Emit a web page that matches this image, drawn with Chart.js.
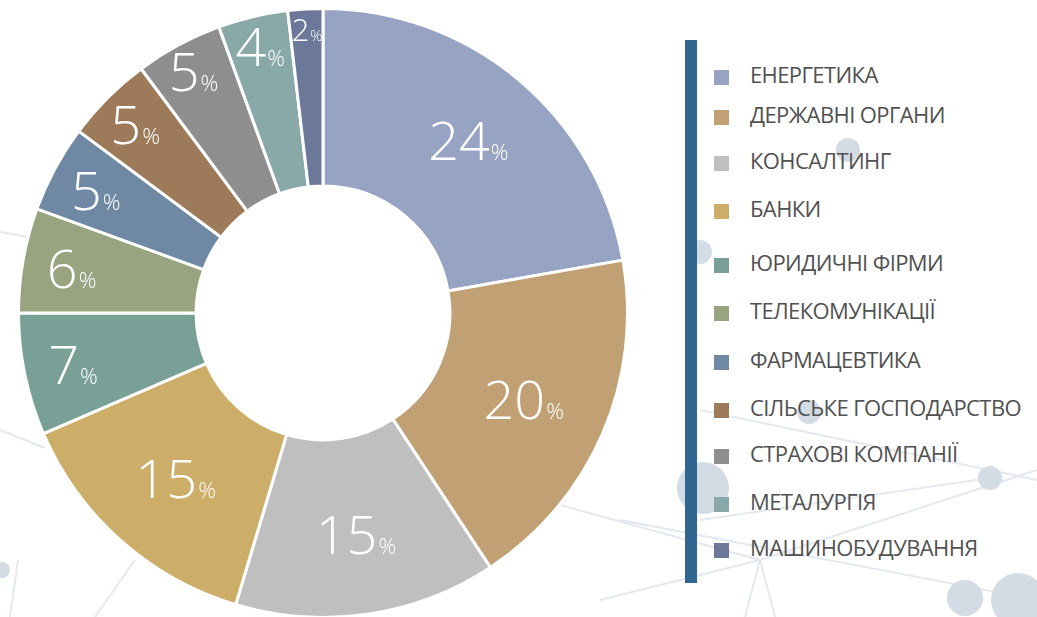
<!DOCTYPE html>
<html>
<head>
<meta charset="utf-8">
<script src="https://cdn.jsdelivr.net/npm/chart.js@4.4.1/dist/chart.umd.min.js"></script>
<style>
  html, body { margin: 0; padding: 0; background: #fff; }
  body { width: 1037px; height: 617px; overflow: hidden; position: relative; font-family: "Open Sans", "Noto Sans", sans-serif; }
  #bg { position: absolute; left: 0; top: 0; }
  #wrap { position: absolute; left: 17px; top: 7px; width: 612px; height: 612px; }
  #bar { position: absolute; left: 685px; top: 40px; width: 12px; height: 543px; background: #336591; }
  .item { position: absolute; left: 714px; height: 20px; }
  .item .sw { position: absolute; left: 0; top: 0; width: 15px; height: 15px; }
  .item .tx { position: absolute; left: 36px; top: -7px; white-space: nowrap; font-size: 22px; line-height: 22px; color: #515151; letter-spacing: -0.6px; }
</style>
</head>
<body>
<svg id="bg" width="1037" height="617">
  <g stroke="#e3e9ef" stroke-width="2" fill="none">
    <line x1="0" y1="232" x2="80" y2="246"/>
    <line x1="0" y1="430" x2="45" y2="448"/>
    <line x1="10" y1="617" x2="18" y2="560"/>
    <line x1="95" y1="617" x2="135" y2="560"/>
    <line x1="560" y1="505" x2="760" y2="560"/>
    <line x1="700" y1="410" x2="1037" y2="480"/>
    <line x1="620" y1="520" x2="1037" y2="600"/>
    <line x1="600" y1="600" x2="760" y2="560"/>
    <line x1="760" y1="560" x2="1037" y2="470"/>
    <line x1="745" y1="617" x2="760" y2="560"/>
    <line x1="775" y1="617" x2="760" y2="560"/>
    <line x1="700" y1="520" x2="990" y2="478"/>
  </g>
  <g fill="#d3dce4">
    <circle cx="848" cy="150" r="12"/>
    <circle cx="700" cy="252" r="12"/>
    <circle cx="703" cy="488" r="26"/>
    <circle cx="990" cy="478" r="12"/>
    <circle cx="965" cy="598" r="18"/>
    <circle cx="1018" cy="600" r="27"/>
    <circle cx="809" cy="412" r="12"/>
    <circle cx="2" cy="570" r="8"/>
  </g>
</svg>
<div id="wrap"><canvas id="chart"></canvas></div>
<div id="bar"></div>
<div id="legend"></div>
<script>
const categories = [
  'ЕНЕРГЕТИКА', 'ДЕРЖАВНІ ОРГАНИ', 'КОНСАЛТИНГ', 'БАНКИ', 'ЮРИДИЧНІ ФІРМИ',
  'ТЕЛЕКОМУНІКАЦІЇ', 'ФАРМАЦЕВТИКА', 'СІЛЬСЬКЕ ГОСПОДАРСТВО', 'СТРАХОВІ КОМПАНІЇ',
  'МЕТАЛУРГІЯ', 'МАШИНОБУДУВАННЯ'
];
const shares = [24, 20, 15, 15, 7, 6, 5, 5, 5, 4, 2];
const colors = [
  '#97a3c2', '#c1a073', '#bfbfbf', '#cdae68', '#79a096',
  '#98a380', '#6f88a4', '#9c7a5a', '#8e8e8e', '#88a9a8', '#6b7899'
];

// label distance from centre, as a share of the outer radius (small slices sit further out)
const labelRadius = [0.74, 0.716, 0.735, 0.73, 0.84, 0.84, 0.85, 0.875, 0.9, 0.9, 0.93];
// legend rows (top of swatch) - spacing in the original is not even
const legendTops = [70, 110, 156, 204, 258, 306, 355, 403, 449, 497, 543];

const legend = document.getElementById('legend');
categories.forEach((name, i) => {
  const row = document.createElement('div');
  row.className = 'item';
  row.style.top = legendTops[i] + 'px';
  row.innerHTML = '<div class="sw" style="background:' + colors[i] + '"></div><div class="tx">' + name + '</div>';
  legend.appendChild(row);
});

const sliceLabels = {
  id: 'sliceLabels',
  afterDatasetsDraw(chart) {
    const ctx = chart.ctx;
    const meta = chart.getDatasetMeta(0);
    meta.data.forEach((arc, i) => {
      const p = arc.getProps(['x', 'y', 'startAngle', 'endAngle', 'outerRadius'], true);
      const mid = (p.startAngle + p.endAngle) / 2;
      const r = p.outerRadius * labelRadius[i];
      const cx = p.x + Math.cos(mid) * r;
      const cy = p.y + Math.sin(mid) * r;
      const big = shares[i] < 3 ? 31 : 54;
      const small = shares[i] < 3 ? 15 : 22;
      const num = String(shares[i]);
      ctx.save();
      ctx.fillStyle = '#fff';
      ctx.textBaseline = 'alphabetic';
      ctx.textAlign = 'left';
      ctx.font = '300 ' + big + 'px "Open Sans", "Noto Sans", sans-serif';
      const wNum = ctx.measureText(num).width;
      ctx.font = '300 ' + small + 'px "Open Sans", "Noto Sans", sans-serif';
      const wPct = ctx.measureText('%').width;
      const x0 = cx - (wNum + wPct) / 2;
      const base = cy + big * 0.36;
      ctx.font = '300 ' + big + 'px "Open Sans", "Noto Sans", sans-serif';
      ctx.fillText(num, x0, base);
      ctx.font = '300 ' + small + 'px "Open Sans", "Noto Sans", sans-serif';
      ctx.fillText('%', x0 + wNum + 1, base);
      ctx.restore();
    });
  }
};

new Chart(document.getElementById('chart'), {
  type: 'doughnut',
  data: {
    labels: categories,
    datasets: [{
      data: shares,
      backgroundColor: colors,
      borderColor: '#ffffff',
      borderWidth: 3
    }]
  },
  options: {
    responsive: true,
    maintainAspectRatio: false,
    animation: false,
    cutout: '41.7%',
    layout: { padding: 0 },
    plugins: {
      legend: { display: false },
      tooltip: { enabled: false }
    }
  },
  plugins: [sliceLabels]
});
</script>
</body>
</html>
